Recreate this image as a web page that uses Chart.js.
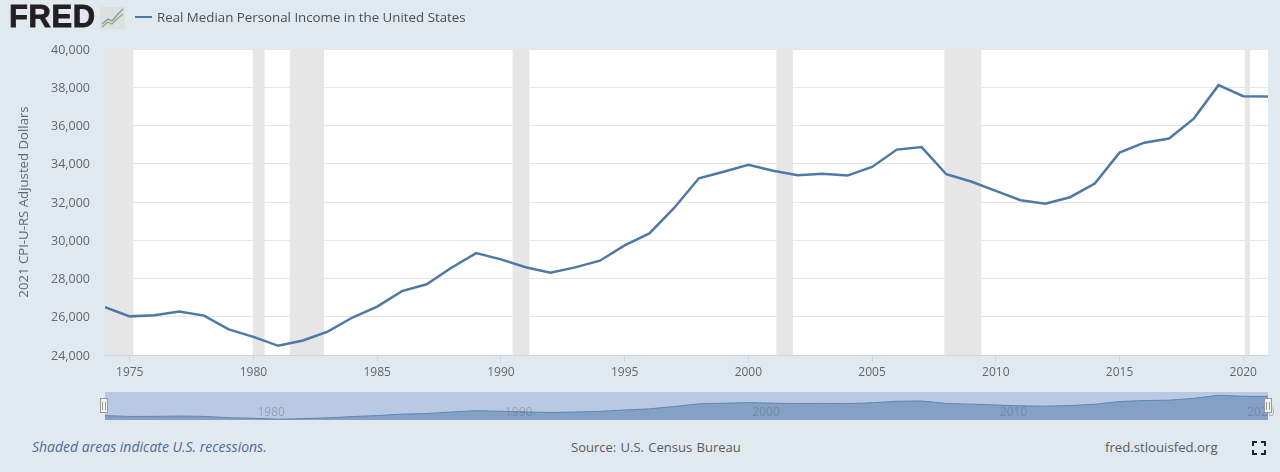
<!DOCTYPE html>
<html>
<head>
<meta charset="utf-8">
<script src="https://cdn.jsdelivr.net/npm/chart.js@4"></script>
<style>
html, body { margin: 0; padding: 0; background: #e1e9f0; width: 1280px; height: 472px; overflow: hidden; font-family: "Open Sans", sans-serif; color: #595959; }
.abs { position: absolute; white-space: nowrap; }
#mainChart { position: absolute; left: 0; top: 0; }
#navChart { position: absolute; left: 0; top: 385px; }
</style>
</head>
<body>
<canvas id="mainChart" width="1280" height="385"></canvas>
<canvas id="navChart" width="1280" height="45"></canvas>

<div class="abs" style="left:9px;top:-1px;font:900 31px 'Liberation Sans',sans-serif;letter-spacing:0.6px;color:#231f20;-webkit-text-stroke:0.8px #231f20">FRED</div>
<svg class="abs" style="left:100px;top:7px" width="25" height="22">
  <rect width="25" height="22" fill="#dde0dc"/>
  <polyline points="2,17 8,12 12,14 18,7 23,2" fill="none" stroke="#7a93b8" stroke-width="1.2"/>
  <polyline points="2,20 8,15 12,17 18,11 23,7" fill="none" stroke="#8fae6a" stroke-width="1.2"/>
</svg>
<div class="abs" style="left:135px;top:16px;width:17px;height:2px;background:#4e79a7"></div>
<div class="abs" id="legendText" style="left:157px;top:8px;font-size:13.3px;color:#4d4d4d"></div>
<div class="abs" id="noteText" style="left:32px;top:437px;font-size:14px;font-style:italic;color:#4e6a9c"></div>
<div class="abs" id="sourceText" style="left:571px;top:438px;font-size:13px;word-spacing:1px"></div>
<div class="abs" id="siteText" style="left:1105px;top:438px;font-size:13.2px"></div>
<svg class="abs" style="left:1252px;top:441px" width="14" height="14" fill="none" stroke="#222" stroke-width="2">
  <path d="M1 5V1H5M9 1H13V5M13 9V13H9M5 13H1V9"/>
</svg>

<script>
// Dados
const years = [1974,1975,1976,1977,1978,1979,1980,1981,1982,1983,1984,1985,1986,1987,1988,1989,1990,1991,1992,1993,1994,1995,1996,1997,1998,1999,2000,2001,2002,2003,2004,2005,2006,2007,2008,2009,2010,2011,2012,2013,2014,2015,2016,2017,2018,2019,2020,2021];
const income = [26500,26020,26080,26270,26060,25340,24950,24480,24760,25220,25960,26530,27340,27700,28560,29330,29000,28590,28300,28580,28930,29730,30360,31690,33240,33580,33940,33630,33400,33480,33380,33830,34740,34870,33450,33070,32580,32090,31910,32250,32960,34580,35100,35320,36360,38110,37530,37510];
const recessionStarts = [1974, 1979.97, 1981.47, 1990.47, 2001.13, 2007.92, 2020.07];
const recessionEnds = [1975.15, 1980.45, 1982.85, 1991.15, 2001.8, 2009.42, 2020.27];
const xTickYears = [1975,1980,1985,1990,1995,2000,2005,2010,2015,2020];
const navTickYears = [1980,1990,2000,2010,2020];
const yTicks = [24000,26000,28000,30000,32000,34000,36000,38000,40000];
const seriesName = 'Real Median Personal Income in the United States';
const yAxisTitle = '2021 CPI-U-RS Adjusted Dollars';
const noteLabel = 'Shaded areas indicate U.S. recessions.';
const sourceLabel = 'Source: U.S. Census Bureau';
const siteLabel = 'fred.stlouisfed.org';

document.getElementById('legendText').textContent = seriesName;
document.getElementById('noteText').textContent = noteLabel;
document.getElementById('sourceText').textContent = sourceLabel;
document.getElementById('siteText').textContent = siteLabel;

const pontos = years.map((y, i) => ({ x: y, y: income[i] }));

// Faixas de recessão, entre o fundo branco e as linhas
const recessionPlugin = {
    id: 'recessions',
    beforeDraw(chart) {
        const { ctx, chartArea: a, scales: { x } } = chart;
        ctx.save();
        ctx.fillStyle = '#ffffff';
        ctx.fillRect(a.left, a.top, a.width, a.height);
        ctx.fillStyle = '#e6e6e6';
        recessionStarts.forEach((s, i) => {
            const l = x.getPixelForValue(s);
            ctx.fillRect(l, a.top, x.getPixelForValue(recessionEnds[i]) - l, a.height);
        });
        ctx.restore();
    }
};

// Fundo do navegador, rótulos apagados e alças
const navPlugin = {
    id: 'navExtras',
    beforeDraw(chart) {
        const { ctx, chartArea: a } = chart;
        ctx.save();
        ctx.fillStyle = '#bac9e3';
        ctx.fillRect(a.left, a.top, a.width, a.height);
        ctx.restore();
    },
    afterDraw(chart) {
        const { ctx, chartArea: a, scales: { x } } = chart;
        ctx.save();
        ctx.font = '12px "Open Sans"';
        ctx.fillStyle = 'rgba(90,100,120,0.4)';
        ctx.textBaseline = 'middle';
        navTickYears.forEach(y => ctx.fillText(String(y), x.getPixelForValue(y) + 4, a.top + 21));
        [a.left - 1, a.right].forEach(px => {
            ctx.fillStyle = '#f2f2f2';
            ctx.strokeStyle = '#999999';
            ctx.fillRect(px - 4, a.top + 6, 8, 15);
            ctx.strokeRect(px - 4 + 0.5, a.top + 6.5, 7, 14);
            ctx.beginPath();
            ctx.moveTo(px - 1.5, a.top + 10); ctx.lineTo(px - 1.5, a.top + 18);
            ctx.moveTo(px + 1.5, a.top + 10); ctx.lineTo(px + 1.5, a.top + 18);
            ctx.stroke();
        });
        ctx.restore();
    }
};

Chart.defaults.font.family = '"Open Sans", sans-serif';
Chart.defaults.animation = false;

new Chart(document.getElementById('mainChart').getContext('2d'), {
    type: 'line',
    data: {
        datasets: [{
            label: seriesName,
            data: pontos,
            borderColor: '#4e79a7',
            borderWidth: 2.5,
            pointRadius: 0,
            tension: 0,
            fill: false
        }]
    },
    options: {
        responsive: false,
        layout: { padding: { top: 49, right: 12, bottom: 0, left: 16 } },
        plugins: { legend: { display: false }, tooltip: { enabled: false } },
        scales: {
            x: {
                type: 'linear',
                min: 1974,
                max: 2021,
                afterBuildTicks(axis) { axis.ticks = xTickYears.map(v => ({ value: v })); },
                afterFit(axis) { axis.height = 30; },
                grid: { display: true, drawOnChartArea: false, drawTicks: true, tickLength: 7, color: '#ccd6eb', offset: false },
                border: { color: '#ccd6eb' },
                ticks: { color: '#666666', font: { size: 12 }, maxRotation: 0, padding: 3, callback: v => String(v) }
            },
            y: {
                min: 24000,
                max: 40000,
                afterBuildTicks(axis) { axis.ticks = yTicks.map(v => ({ value: v })); },
                afterFit(axis) { axis.width = 89; },
                grid: { color: '#e6e6e6', drawTicks: false },
                border: { display: false },
                title: { display: true, text: yAxisTitle, color: '#666666', font: { size: 13.2 }, padding: 0 },
                ticks: { color: '#666666', font: { size: 12.5 }, padding: 15, labelOffset: 1, callback: v => v.toLocaleString('en-US') }
            }
        }
    },
    plugins: [recessionPlugin]
});

new Chart(document.getElementById('navChart').getContext('2d'), {
    type: 'line',
    data: {
        datasets: [{
            data: pontos,
            borderColor: '#5f86b3',
            borderWidth: 1,
            backgroundColor: 'rgba(78,121,167,0.5)',
            pointRadius: 0,
            tension: 0,
            fill: 'start'
        }]
    },
    options: {
        responsive: false,
        layout: { padding: { top: 7, right: 12, bottom: 10, left: 105 } },
        plugins: { legend: { display: false }, tooltip: { enabled: false } },
        scales: {
            x: { type: 'linear', min: 1974, max: 2021, display: false },
            y: { min: 24000, max: 40000, display: false }
        }
    },
    plugins: [navPlugin]
});
</script>
</body>
</html>
